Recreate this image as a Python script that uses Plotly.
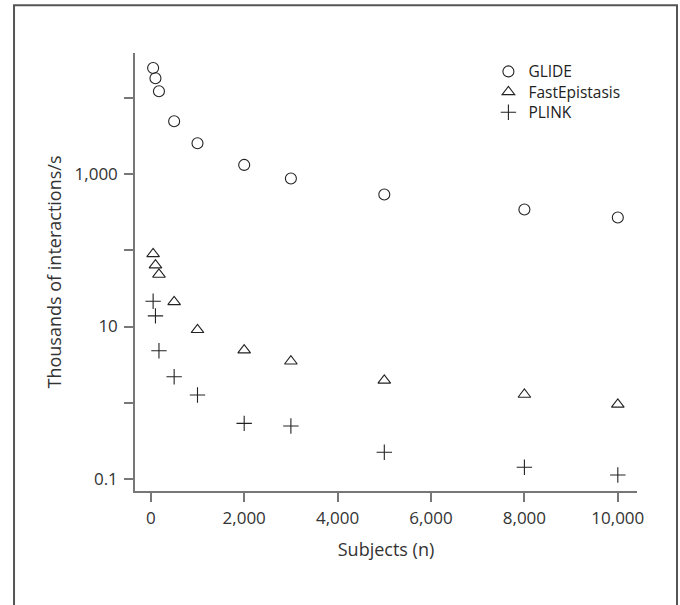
import plotly.graph_objects as go

subjects = [50, 100, 175, 500, 1000, 2000, 3000, 5000, 8000, 10000]
glide = [24800, 18200, 12300, 4960, 2550, 1325, 879, 542, 344, 270]
fast_epistasis = [90, 64, 48.3, 21.1, 9.05, 4.9, 3.5, 1.96, 1.28, 0.95]
plink = [21.5, 13.8, 4.8, 2.19, 1.26, 0.535, 0.493, 0.223, 0.142, 0.112]

y_tickvals = [0.1, 1, 10, 100, 1000, 10000]
y_ticktext = ["0.1", "", "10", "", "1,000", ""]
x_tickvals = [0, 2000, 4000, 6000, 8000, 10000]

FONT = "Open Sans"
MK = "#222222"
TXT = "#333333"

fig = go.Figure()
fig.add_trace(go.Scatter(x=subjects, y=glide, mode="markers", name="GLIDE", legend="legend",
                         marker=dict(symbol="circle-open", size=11, color=MK, line=dict(width=1.1, color=MK))))
fig.add_trace(go.Scatter(x=subjects, y=fast_epistasis, mode="markers", name="FastEpistasis", legend="legend2",
                         marker=dict(symbol="triangle-up-open", size=11, color=MK, line=dict(width=1.1, color=MK))))
fig.add_trace(go.Scatter(x=subjects, y=plink, mode="markers", name="PLINK", legend="legend3",
                         marker=dict(symbol="cross-thin-open", size=11, color=MK, line=dict(width=1.1, color=MK))))

leg_common = dict(x=0.704, xanchor="left", yanchor="middle", bgcolor="rgba(0,0,0,0)",
                  font=dict(family=FONT, size=15.5, color="#222222"), itemwidth=30)

fig.update_layout(
    width=680, height=605,
    margin=dict(l=135, r=43, t=53, b=114),
    paper_bgcolor="white", plot_bgcolor="white",
    font=dict(family=FONT, size=17, color=TXT),
    showlegend=True,
    legend=dict(y=0.957, **leg_common),
    legend2=dict(y=0.9103, **leg_common),
    legend3=dict(y=0.8636, **leg_common),
    xaxis=dict(range=[-338, 10411], tickvals=x_tickvals, tickformat=",d",
               showline=True, linecolor="#777777", linewidth=1.5,
               ticks="outside", ticklen=9, tickcolor="#777777", tickwidth=1.5,
               showgrid=False, zeroline=False, ticklabelstandoff=2,
               title=dict(text="Subjects (n)", standoff=15, font=dict(size=18, color=TXT))),
    yaxis=dict(type="log", range=[-1.16, 4.592], tickvals=y_tickvals, ticktext=y_ticktext,
               showline=True, linecolor="#777777", linewidth=1.5,
               ticks="outside", ticklen=9, tickcolor="#777777", tickwidth=1.5,
               showgrid=False, zeroline=False, ticklabelstandoff=3,
               title=dict(text="Thousands of interactions/s", standoff=8, font=dict(size=18, color=TXT))),
)

fig.add_shape(type="rect", xref="paper", yref="paper",
              x0=-0.241, x1=1.0797, y0=-0.3, y1=1.1088,
              line=dict(color="#555555", width=2), fillcolor="rgba(0,0,0,0)", layer="below")

fig.write_html("out.html", config={"displayModeBar": False},
               post_script="document.body.style.margin='0';")
